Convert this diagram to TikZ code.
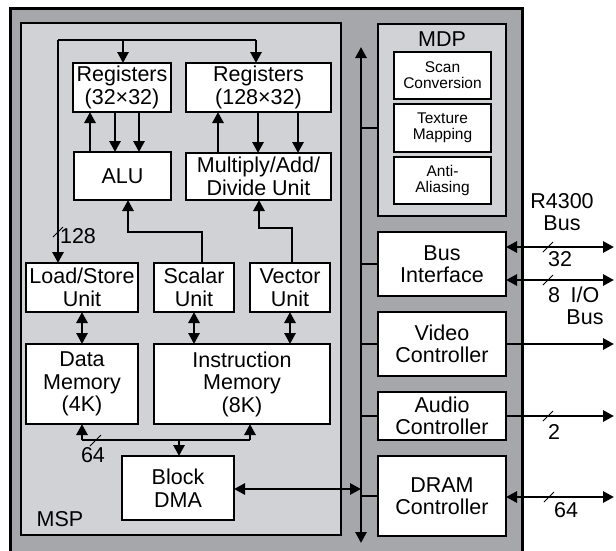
\documentclass[tikz,border=0pt]{standalone}
\usepackage{fontspec}
\setmainfont{Liberation Sans}
\usetikzlibrary{arrows.meta}
\definecolor{outergray}{RGB}{166,167,171}
\definecolor{innergray}{RGB}{209,210,214}
\newcommand\bx[7][box]{\node[#1,minimum width={#5-#3},minimum height={#6-#4}] (#2) at ({(#3+#5)/2},{(#4+#6)/2}) {#7};}
\begin{document}
\begin{tikzpicture}[x=1pt,y=-1pt,
  box/.style={draw=black,fill=white,line width=1.4pt,inner sep=0pt,outer sep=0pt,align=center,font=\fontsize{21.5}{22.5}\selectfont},
  sbox/.style={box,font=\fontsize{15.5}{16}\selectfont},
  panel/.style={draw=black,fill=innergray,line width=1.4pt,inner sep=0pt,outer sep=0pt},
  conn/.style={line width=2.8pt},
  arr/.style={conn,-{Triangle[length=11pt,width=11pt]}},
  darr/.style={conn,{Triangle[length=11pt,width=11pt]}-{Triangle[length=11pt,width=11pt]}},
  slashmark/.style={line width=0.9pt},
  lbl/.style={inner sep=0pt,font=\fontsize{21.5}{22.5}\selectfont,align=center}]
\useasboundingbox (0,0) rectangle (616,550);
\fill[white] (0,0) rectangle (616,550);
% outer chip
\draw[fill=outergray,line width=3pt] (10,8) -- (10,553) -- (522,553) -- (522,8) -- cycle;
% MSP panel
\bx[panel]{msp}{21}{23}{341}{535}{}
\node[lbl] (msplbl) at (60,519) {MSP};
% MDP panel
\bx[panel]{mdp}{378}{24}{506}{216}{}
\node[lbl] (mdplbl) at (442,39) {MDP};
\bx[sbox]{scan}{394}{52}{491}{99}{Scan\\Conversion}
\bx[sbox]{tex}{394}{104}{491}{152}{Texture\\Mapping}
\bx[sbox]{anti}{394}{157}{491}{204}{Anti-\\Aliasing}
% right column
\bx{busif}{378}{232}{506}{296}{Bus\\Interface}
\bx{video}{378}{312}{506}{376}{Video\\Controller}
\bx{audio}{378}{392}{506}{440}{Audio\\Controller}
\bx{dram}{378}{456}{506}{536}{DRAM\\Controller}
% MSP content
\bx{reg1}{73}{63}{171}{112}{Registers\\(32×32)}
\bx{reg2}{186}{63}{331}{112}{Registers\\(128×32)}
\bx{alu}{74}{152}{171}{200}{ALU}
\bx{mult}{186}{153}{331}{200}{Multiply/Add/\\Divide Unit}
\bx{ls}{26}{263}{138}{312}{Load/Store\\Unit}
\bx{scalar}{154}{263}{234}{312}{Scalar\\Unit}
\bx{vector}{250}{263}{330}{312}{Vector\\Unit}
\bx{dmem}{26}{344}{138}{424}{Data\\Memory\\(4K)}
\bx{imem}{154}{344}{330}{424}{Instruction\\Memory\\(8K)}
\bx{dma}{122}{456}{234}{520}{Block\\DMA}
% internal bus
\coordinate (busT) at (361,47);
\coordinate (busB) at (361,543);
\draw[darr] (busT) -- (busB);
\draw[conn] (361,128) -- (mdp.west |- 0,128);
\draw[conn] (361,264) -- (busif.west |- 0,264);
\draw[conn] (361,344) -- (video.west);
\draw[conn] (361,416) -- (audio.west);
\draw[conn] (361,496) -- (dram.west);
\draw[darr] (dma.east |- 0,489) -- (361,489);
% top register bus
\coordinate (tbL) at (58,40);
\coordinate (tbR) at (256,40);
\draw[conn] (tbL) -- (tbR);
\draw[arr] (123,40) -- (reg1.north -| 123,0);
\draw[arr] (tbR) -- (reg2.north -| tbR);
\draw[arr] (tbL) -- (ls.north -| tbL);
\draw[slashmark] (53,237) -- (63,227);
\node[lbl] (l128) at (78,236) {128};
% reg <-> ALU
\draw[arr] (alu.north -| 90,0) -- (reg1.south -| 90,0);
\draw[arr] (reg1.south -| 115,0) -- (alu.north -| 115,0);
\draw[arr] (reg1.south -| 139,0) -- (alu.north -| 139,0);
\draw[arr] (mult.north -| 218,0) -- (reg2.south -| 218,0);
\draw[arr] (reg2.south -| 258,0) -- (mult.north -| 258,0);
\draw[arr] (reg2.south -| 298,0) -- (mult.north -| 298,0);
% scalar/vector to ALU/mult
\draw[arr] (scalar.north -| 202,0) -- (202,232) -- (128,232) -- (alu.south -| 128,0);
\draw[arr] (vector.north -| 292,0) -- (292,228) -- (259,228) -- (mult.south -| 259,0);
% units <-> memories
\draw[darr] (ls.south -| 82,0) -- (dmem.north -| 82,0);
\draw[darr] (scalar.south -| 194,0) -- (imem.north -| 194,0);
\draw[darr] (vector.south -| 290,0) -- (imem.north -| 290,0);
% memory bus
\draw[arr] (82,440) -- (dmem.south -| 82,0);
\draw[arr] (250,440) -- (imem.south -| 250,0);
\draw[conn] (82,440) -- (250,440);
\draw[arr] (179,440) -- (dma.north -| 179,0);
\draw[slashmark] (90,446) -- (101,435);
\node[lbl] (l64a) at (93,455) {64};
% external connections
\coordinate (e1) at (614,247);
\coordinate (e2) at (614,280);
\coordinate (e3) at (614,344);
\coordinate (e4) at (614,416);
\coordinate (e5) at (614,497);
\draw[darr] (busif.east |- e1) -- (e1);
\draw[darr] (busif.east |- e2) -- (e2);
\draw[arr] (video.east |- e3) -- (e3);
\draw[arr] (audio.east |- e4) -- (e4);
\draw[darr] (dram.east |- e5) -- (e5);
\draw[slashmark] (543,252) -- (553,242);
\draw[slashmark] (543,285) -- (553,275);
\draw[slashmark] (543,421) -- (553,411);
\draw[slashmark] (544,502) -- (554,492);
\node[lbl] (r4300) at (562,212) {R4300\\Bus};
\node[lbl] (l32) at (560,259) {32};
\node[lbl] (l8) at (554,295) {8};
\node[lbl] (lio) at (585,306) {I/O\\Bus};
\node[lbl] (l2) at (554,432) {2};
\node[lbl] (l64b) at (566,510) {64};
\end{tikzpicture}
\end{document}
